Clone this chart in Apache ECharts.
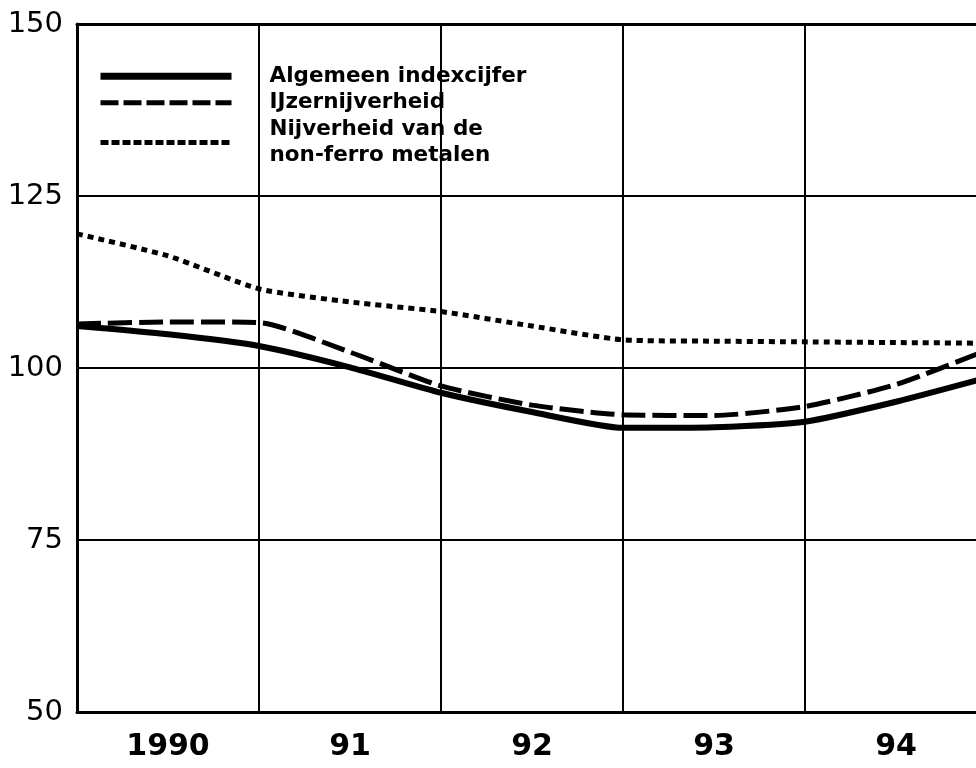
<!DOCTYPE html>
<html>
<head>
<meta charset="utf-8">
<script src="https://cdn.jsdelivr.net/npm/echarts@6/dist/echarts.min.js"></script>
<style>
html,body{margin:0;padding:0;background:#fff;overflow:hidden;}
#chart{width:990px;height:768px;}
</style>
</head>
<body>
<div id="chart"></div>
<script>
// x positions in (decimal) years
var years = [1990, 1990.5, 1991, 1991.5, 1992, 1992.5, 1993, 1993.5, 1994, 1994.5, 1995];
var yearLabels = ['1990', '91', '92', '93', '94'];
var yTicks = [50, 75, 100, 125, 150];
var seriesNames = ['Algemeen indexcijfer', 'IJzernijverheid', 'Nijverheid van de\nnon-ferro metalen'];
var algemeen = [106.1, 104.9, 103.2, 100.1, 96.4, 93.6, 91.3, 91.4, 92.2, 95.1, 98.6];
var ijzer    = [106.4, 106.7, 106.6, 102.3, 97.4, 94.6, 93.2, 93.1, 94.4, 97.6, 102.6];
var nonferro = [119.5, 116.3, 111.5, 109.6, 108.2, 106.1, 104.1, 103.9, 103.8, 103.7, 103.6];

function pairs(vals) { return years.map(function (x, i) { return [x, vals[i]]; }); }

var chart = echarts.init(document.getElementById('chart'), null, {renderer: 'canvas'});
var hideSym = {opacity: 0};
var option = {
  backgroundColor: '#ffffff',
  animation: false,
  grid: {left: 77, right: 3, top: 24, bottom: 56, containLabel: false},
  legend: {
    orient: 'vertical',
    left: 92,
    top: 58,
    itemWidth: 131,
    itemHeight: 12,
    itemGap: 0,
    textStyle: {fontFamily: 'DejaVu Sans', fontWeight: 'bold', fontSize: 21.5, color: '#000', lineHeight: 26.5, padding: [0, 0, 0, 33]},
    data: [
      {name: seriesNames[0], itemStyle: hideSym, lineStyle: {width: 7, type: 'solid', color: '#000', opacity: 1}},
      {name: seriesNames[1], itemStyle: hideSym, lineStyle: {width: 5, type: [18, 5], color: '#000', opacity: 1}},
      {name: seriesNames[2], itemStyle: hideSym, lineStyle: {width: 5, type: [8, 3], color: '#000', opacity: 1}}
    ]
  },
  xAxis: [
    {
      type: 'category',
      position: 'bottom',
      data: yearLabels,
      boundaryGap: true,
      axisLine: {show: true, lineStyle: {color: '#000', width: 3}},
      axisTick: {show: false},
      splitLine: {show: false},
      axisLabel: {color: '#000', fontFamily: 'DejaVu Sans', fontWeight: 'bold', fontSize: 30, margin: 20}
    },
    {
      type: 'value',
      position: 'top',
      min: 1990, max: 1995, interval: 1,
      axisLine: {show: true, lineStyle: {color: '#000', width: 3}},
      axisTick: {show: false},
      axisLabel: {show: false},
      splitLine: {show: true, lineStyle: {color: '#000', width: 2}}
    }
  ],
  yAxis: {
    type: 'value',
    min: yTicks[0], max: yTicks[yTicks.length - 1], interval: 25,
    axisLine: {show: true, lineStyle: {color: '#000', width: 3}},
    axisTick: {show: false},
    axisLabel: {color: '#000', fontFamily: 'DejaVu Sans', fontSize: 29, margin: 14},
    splitLine: {show: true, lineStyle: {color: '#000', width: 2}}
  },
  series: [
    {
      name: seriesNames[0], type: 'line', xAxisIndex: 1, symbol: 'none', smooth: 0.2,
      lineStyle: {color: '#000', width: 6, type: 'solid'},
      itemStyle: {color: '#000'},
      data: pairs(algemeen), z: 5
    },
    {
      name: seriesNames[1], type: 'line', xAxisIndex: 1, symbol: 'none', smooth: 0.2,
      lineStyle: {color: '#000', width: 5, type: [24, 7], cap: 'butt'},
      itemStyle: {color: '#000'},
      data: pairs(ijzer), z: 4
    },
    {
      name: seriesNames[2], type: 'line', xAxisIndex: 1, symbol: 'none', smooth: 0.2,
      lineStyle: {color: '#000', width: 5, type: [6, 5], cap: 'butt'},
      itemStyle: {color: '#000'},
      data: pairs(nonferro), z: 3
    }
  ]
};
chart.setOption(option);
</script>
</body>
</html>
